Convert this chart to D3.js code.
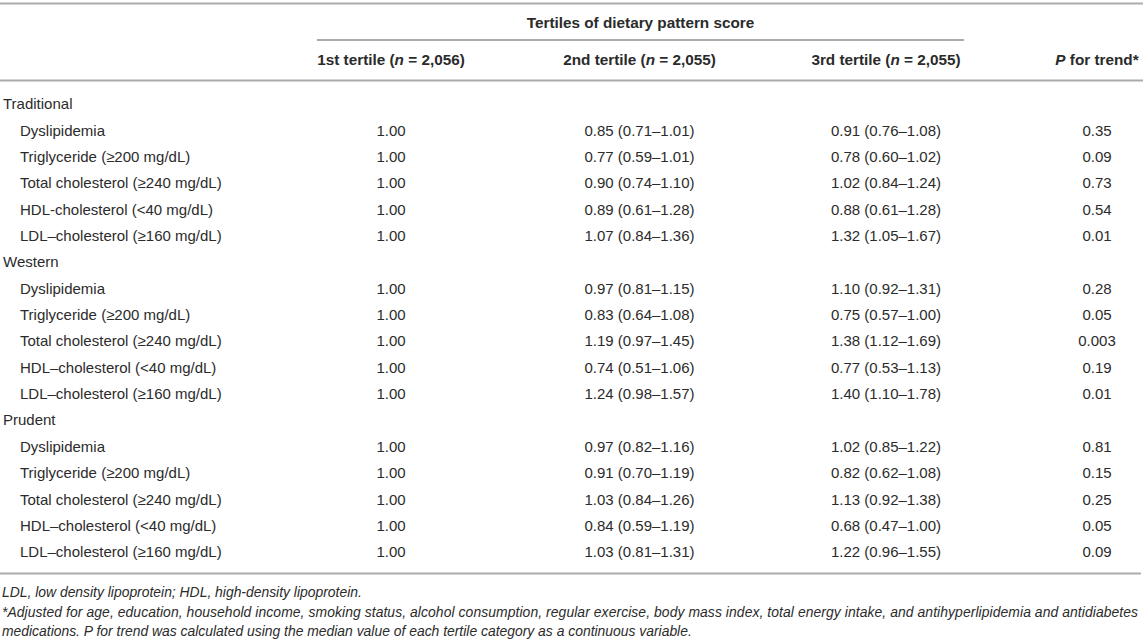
<!DOCTYPE html>
<html>
<head>
<meta charset="utf-8">
<script src="https://cdn.jsdelivr.net/npm/d3@7/dist/d3.min.js"></script>
<style>
  html, body { margin: 0; padding: 0; background: #fff; }
  svg { display: block; }
  text { font-family: "Liberation Sans", Arial, Helvetica, sans-serif; fill: #2b2b2b; }
</style>
</head>
<body>
<svg id="chart" width="1143" height="641"></svg>
<script>
// ---------------- DATA ----------------
const spanHeader = "Tertiles of dietary pattern score";
const columnHeaders = [
  [{t: "1st tertile ("}, {t: "n", i: true}, {t: " = 2,056)"}],
  [{t: "2nd tertile ("}, {t: "n", i: true}, {t: " = 2,055)"}],
  [{t: "3rd tertile ("}, {t: "n", i: true}, {t: " = 2,055)"}],
  [{t: "P", i: true}, {t: " for trend*"}]
];
const patterns = ["Traditional", "Western", "Prudent"];
const outcomesTraditional = ["Dyslipidemia", "Triglyceride (≥200 mg/dL)", "Total cholesterol (≥240 mg/dL)", "HDL-cholesterol (<40 mg/dL)", "LDL–cholesterol (≥160 mg/dL)"];
const outcomesWestern = ["Dyslipidemia", "Triglyceride (≥200 mg/dL)", "Total cholesterol (≥240 mg/dL)", "HDL–cholesterol (<40 mg/dL)", "LDL–cholesterol (≥160 mg/dL)"];
const outcomesPrudent = ["Dyslipidemia", "Triglyceride (≥200 mg/dL)", "Total cholesterol (≥240 mg/dL)", "HDL–cholesterol (<40 mg/dL)", "LDL–cholesterol (≥160 mg/dL)"];
const tertile1 = ["1.00", "1.00", "1.00", "1.00", "1.00"];
const tertile2Traditional = ["0.85 (0.71–1.01)", "0.77 (0.59–1.01)", "0.90 (0.74–1.10)", "0.89 (0.61–1.28)", "1.07 (0.84–1.36)"];
const tertile3Traditional = ["0.91 (0.76–1.08)", "0.78 (0.60–1.02)", "1.02 (0.84–1.24)", "0.88 (0.61–1.28)", "1.32 (1.05–1.67)"];
const pTrendTraditional = ["0.35", "0.09", "0.73", "0.54", "0.01"];
const tertile2Western = ["0.97 (0.81–1.15)", "0.83 (0.64–1.08)", "1.19 (0.97–1.45)", "0.74 (0.51–1.06)", "1.24 (0.98–1.57)"];
const tertile3Western = ["1.10 (0.92–1.31)", "0.75 (0.57–1.00)", "1.38 (1.12–1.69)", "0.77 (0.53–1.13)", "1.40 (1.10–1.78)"];
const pTrendWestern = ["0.28", "0.05", "0.003", "0.19", "0.01"];
const tertile2Prudent = ["0.97 (0.82–1.16)", "0.91 (0.70–1.19)", "1.03 (0.84–1.26)", "0.84 (0.59–1.19)", "1.03 (0.81–1.31)"];
const tertile3Prudent = ["1.02 (0.85–1.22)", "0.82 (0.62–1.08)", "1.13 (0.92–1.38)", "0.68 (0.47–1.00)", "1.22 (0.96–1.55)"];
const pTrendPrudent = ["0.81", "0.15", "0.25", "0.05", "0.09"];
const footnotes = [
  [{t: "LDL, low density lipoprotein; HDL, high-density lipoprotein."}],
  [{t: "*Adjusted for age, education, household income, smoking status, alcohol consumption, regular exercise, body mass index, total energy intake, and antihyperlipidemia and antidiabetes"}],
  [{t: "medications. "}, {t: "P"}, {t: " for trend was calculated using the median value of each tertile category as a continuous variable."}]
];

// ---------------- BUILD ROWS ----------------
const blocks = [
  {name: patterns[0], out: outcomesTraditional, t2: tertile2Traditional, t3: tertile3Traditional, p: pTrendTraditional},
  {name: patterns[1], out: outcomesWestern, t2: tertile2Western, t3: tertile3Western, p: pTrendWestern},
  {name: patterns[2], out: outcomesPrudent, t2: tertile2Prudent, t3: tertile3Prudent, p: pTrendPrudent}
];
const rows = [];
blocks.forEach(b => {
  rows.push({label: b.name, group: true, cells: []});
  b.out.forEach((o, i) => rows.push({label: o, group: false, cells: [tertile1[i], b.t2[i], b.t3[i], b.p[i]]}));
});

// ---------------- LAYOUT ----------------
const svg = d3.select("#chart");
const W = 1143;
const lineColor = "#ababab";
const colX = d3.scaleOrdinal().domain([0, 1, 2, 3]).range([391, 639.5, 886, 1097]);
const y = d3.scaleLinear().domain([0, rows.length - 1]).range([104, 552]);
const fsBody = 15, fsHead = 15.3, fsFoot = 13.9;

function rich(sel, parts, italicAll) {
  parts.forEach(p => sel.append("tspan").text(p.t)
    .attr("font-style", (p.i || italicAll) ? "italic" : null));
}

// horizontal rules
const rules = [
  {x1: 0, x2: W, y: 3.5},
  {x1: 317, x2: 964, y: 40},
  {x1: 0, x2: W, y: 80.5},
  {x1: 0, x2: 1141, y: 573.5}
];
svg.selectAll("line.rule").data(rules).join("line")
  .attr("class", "rule")
  .attr("x1", d => d.x1).attr("x2", d => d.x2)
  .attr("y1", d => d.y).attr("y2", d => d.y)
  .attr("stroke", lineColor).attr("stroke-width", 2);

// spanning header
svg.append("text").attr("x", (317 + 964) / 2).attr("y", 22.5).attr("dy", "0.35em")
  .attr("text-anchor", "middle").attr("font-weight", "bold").attr("font-size", fsHead)
  .text(spanHeader);

// column headers
svg.selectAll("text.colhead").data(columnHeaders).join("text")
  .attr("class", "colhead")
  .attr("x", (d, i) => colX(i)).attr("y", 60).attr("dy", "0.35em")
  .attr("text-anchor", "middle").attr("font-weight", "bold").attr("font-size", fsHead)
  .each(function(d) { rich(d3.select(this), d, false); });

// row labels
svg.selectAll("text.rowlabel").data(rows).join("text")
  .attr("class", "rowlabel")
  .attr("x", d => d.group ? 3 : 20)
  .attr("y", (d, i) => y(i)).attr("dy", "0.35em")
  .attr("font-size", fsBody)
  .text(d => d.label);

// cells
const cellData = [];
rows.forEach((r, ri) => r.cells.forEach((c, ci) => cellData.push({ri, ci, v: c})));
svg.selectAll("text.cell").data(cellData).join("text")
  .attr("class", "cell")
  .attr("x", d => colX(d.ci)).attr("y", d => y(d.ri)).attr("dy", "0.35em")
  .attr("text-anchor", "middle").attr("font-size", fsBody)
  .text(d => d.v);

// footnotes (justified paragraph: the full-width line is stretched)
const footY = d3.scaleLinear().domain([0, 2]).range([592, 631.5]);
svg.selectAll("text.foot").data(footnotes).join("text")
  .attr("class", "foot")
  .attr("x", 2).attr("y", (d, i) => footY(i)).attr("dy", "0.35em")
  .attr("font-size", fsFoot).attr("font-style", "italic")
  .attr("textLength", (d, i) => i === 1 ? 1136 : null)
  .attr("lengthAdjust", (d, i) => i === 1 ? "spacing" : null)
  .each(function(d) { rich(d3.select(this), d, true); });
</script>
</body>
</html>
